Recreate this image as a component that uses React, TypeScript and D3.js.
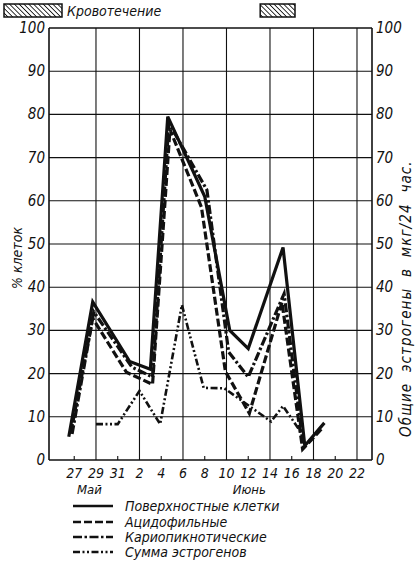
import React from "react";
import * as d3 from "d3";

// ---- data (t = days counted from 27 May) ----
const dayTicks = [0, 2, 4, 6, 8, 10, 12, 14, 16, 18, 20, 22, 24, 26];
const dayLabels = ["27", "29", "31", "2", "4", "6", "8", "10", "12", "14", "16", "18", "20", "22"];
const valueTicks = [0, 10, 20, 30, 40, 50, 60, 70, 80, 90, 100];
const monthNames = ["Май", "Июнь"];
const monthDays = [1.4, 16.1];

const surfaceT = [-0.5, 1.7, 5.1, 7.0, 8.6, 12.0, 14.3, 16.0, 19.2, 21.2, 23.0];
const surfaceV = [5.4, 36.6, 22.8, 21.0, 79.5, 61.0, 30.0, 25.8, 49.2, 3.3, 8.6];

const acidT = [-0.3, 1.7, 4.8, 7.2, 8.8, 11.7, 13.9, 16.1, 19.1, 21.0, 22.9];
const acidV = [6.5, 32.8, 20.3, 17.5, 76.5, 58.5, 20.5, 10.8, 36.5, 2.5, 7.6];

const karioT = [-0.2, 1.8, 5.3, 7.2, 8.7, 12.2, 14.2, 16.0, 19.3, 21.1];
const karioV = [6.0, 34.3, 21.5, 19.2, 78.0, 62.5, 25.0, 19.2, 38.5, 2.5];

const estrT = [2.0, 4.0, 6.0, 7.9, 9.9, 11.9, 13.8, 18.1, 19.2, 21.1];
const estrV = [8.3, 8.3, 16.0, 8.3, 35.9, 16.7, 16.6, 8.9, 12.5, 5.5];

const bleedingStart = 17.1;
const bleedingEnd = 20.3;

const seriesNames = ["Поверхностные клетки", "Ацидофильные", "Кариопикнотические", "Сумма эстрогенов"];
const leftTitle = "% клеток";
const rightTitle = "Общие  эстрогены  в  мкг/24  час.";
const bleedingLabel = "Кровотечение";

const FONT = "'Liberation Sans Narrow','DejaVu Sans Condensed','Liberation Sans',sans-serif";
const INK = "#111";

export default function App() {
  const x = d3.scaleLinear().domain([-2.32, 27.38]).range([49, 372]);
  const y = d3.scaleLinear().domain([0, 100]).range([460, 28]);
  const [x0, x1] = x.range();
  const [y0, y1] = y.range();

  const line = d3
    .line<[number, number]>()
    .x((d) => x(d[0]))
    .y((d) => y(d[1]));

  const zip = (t: number[], v: number[]) => t.map((d, i) => [d, v[i]] as [number, number]);

  const series = [
    { pts: zip(surfaceT, surfaceV), dash: "none", w: 3.2 },
    { pts: zip(acidT, acidV), dash: "8,3", w: 3.2 },
    { pts: zip(karioT, karioV), dash: "9,2.5,2.5,2.5", w: 3.2 },
    { pts: zip(estrT, estrV), dash: "7,2.5,2,2.5,2,2.5", w: 2.6 },
  ];

  const gridDays = dayTicks.filter((_, i) => i % 2 === 1);
  const minorDays = dayTicks.filter((_, i) => i % 2 === 0);

  const legendY = [511, 527, 542, 557];

  return (
    <svg
      width={417}
      height={562}
      style={{ position: "absolute", left: 0, top: 0, background: "#fff" }}
      fontFamily={FONT}
    >
      <defs>
        <pattern id="hatch" patternUnits="userSpaceOnUse" width="3.4" height="8" patternTransform="rotate(-45)">
          <line x1="0" y1="0" x2="0" y2="8" stroke={INK} strokeWidth="1.7" />
        </pattern>
      </defs>
      <rect width={417} height={562} fill="#fff" />

      {/* bleeding legend swatch and period */}
      <rect x={4} y={4} width={58} height={13} fill="url(#hatch)" stroke={INK} strokeWidth={1.5} />
      <text x={67} y={16} fontSize={14} fontStyle="italic" fill={INK}>
        {bleedingLabel}
      </text>
      <rect
        x={x(bleedingStart)}
        y={4}
        width={x(bleedingEnd) - x(bleedingStart)}
        height={13}
        fill="url(#hatch)"
        stroke={INK}
        strokeWidth={1.5}
      />

      {/* horizontal grid */}
      {valueTicks.map((v) => (
        <line key={"h" + v} x1={x0} x2={x1} y1={y(v)} y2={y(v)} stroke={INK} strokeWidth={v === 0 || v === 100 ? 1.6 : 1.1} />
      ))}
      {/* vertical grid */}
      {gridDays.map((d) => (
        <line key={"v" + d} x1={x(d)} x2={x(d)} y1={y0} y2={y1} stroke={INK} strokeWidth={1.1} />
      ))}
      {minorDays.map((d) => (
        <line key={"m" + d} x1={x(d)} x2={x(d)} y1={y0} y2={y0 - 4} stroke={INK} strokeWidth={1.1} />
      ))}
      <line x1={x0} x2={x0} y1={y0} y2={y1} stroke={INK} strokeWidth={1.6} />
      <line x1={x1} x2={x1} y1={y0} y2={y1} stroke={INK} strokeWidth={1.6} />

      {/* axis labels */}
      {valueTicks.map((v) => (
        <text key={"l" + v} x={x0 - 4} y={y(v) + 5} fontSize={15} fontStyle="italic" textAnchor="end" fill={INK}>
          {v}
        </text>
      ))}
      {valueTicks.map((v) => (
        <text key={"r" + v} x={x1 + 4} y={y(v) + 5} fontSize={15} fontStyle="italic" textAnchor="start" fill={INK}>
          {v}
        </text>
      ))}
      {dayTicks.map((d, i) => (
        <text key={"d" + d} x={x(d)} y={478} fontSize={14} fontStyle="italic" textAnchor="middle" fill={INK}>
          {dayLabels[i]}
        </text>
      ))}
      {monthNames.map((m, i) => (
        <text key={m} x={x(monthDays[i])} y={494} fontSize={13} fontStyle="italic" textAnchor="middle" fill={INK}>
          {m}
        </text>
      ))}

      <text
        transform={`translate(22,${258}) rotate(-90)`}
        fontSize={14}
        fontStyle="italic"
        textAnchor="middle"
        fill={INK}
      >
        {leftTitle}
      </text>
      <text
        transform={`translate(411,${437}) rotate(-90)`}
        fontSize={15}
        letterSpacing={1.1}
        fontStyle="italic"
        textAnchor="start"
        fill={INK}
        style={{ whiteSpace: "pre" }}
      >
        {rightTitle}
      </text>

      {/* series */}
      {series.map((s, i) => (
        <path
          key={"s" + i}
          d={line(s.pts) || ""}
          fill="none"
          stroke={INK}
          strokeWidth={s.w}
          strokeDasharray={s.dash}
          strokeLinejoin="miter"
        />
      ))}

      {/* legend */}
      {series.map((s, i) => (
        <g key={"lg" + i}>
          <line x1={73} x2={113} y1={legendY[i] - 5} y2={legendY[i] - 5} stroke={INK} strokeWidth={2.6} strokeDasharray={s.dash} />
          <text x={125} y={legendY[i]} fontSize={14} fontStyle="italic" fill={INK}>
            {seriesNames[i]}
          </text>
        </g>
      ))}
    </svg>
  );
}
